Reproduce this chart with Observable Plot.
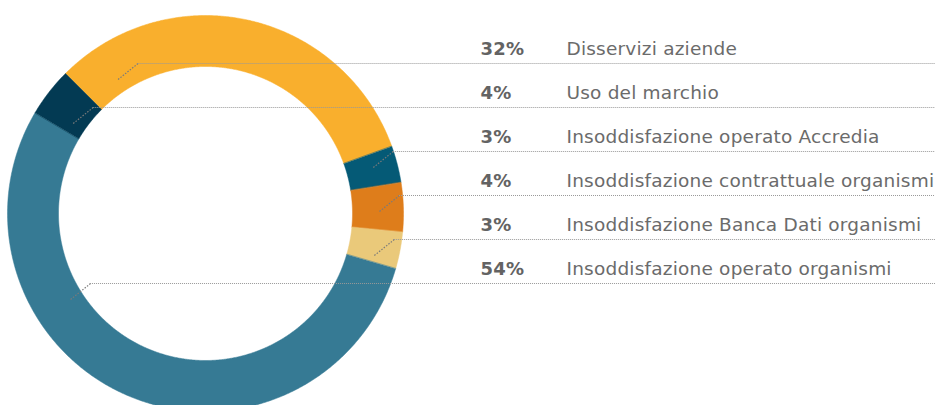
<!DOCTYPE html>
<html>
<head>
<meta charset="utf-8">
<script src="https://cdn.jsdelivr.net/npm/d3@7"></script>
<script src="https://cdn.jsdelivr.net/npm/@observablehq/plot@0.6"></script>
<style>
  html, body { margin: 0; padding: 0; background: #fff; }
  #chart svg { display: block; }
  #chart svg text { letter-spacing: 0.2px; }
</style>
</head>
<body>
<div id="chart"></div>
<script>
// ---- data (legend order) ----
const categories = [
  "Disservizi aziende",
  "Uso del marchio",
  "Insoddisfazione operato Accredia",
  "Insoddisfazione contrattuale organismi",
  "Insoddisfazione Banca Dati organismi",
  "Insoddisfazione operato organismi"
];
const values = [32, 4, 3, 4, 3, 54];
const percentLabels = ["32%", "4%", "3%", "4%", "3%", "54%"];
// clockwise order of the slices, starting at upper-left
const pieOrder = [
  "Disservizi aziende",
  "Insoddisfazione operato Accredia",
  "Insoddisfazione contrattuale organismi",
  "Insoddisfazione Banca Dati organismi",
  "Insoddisfazione operato organismi",
  "Uso del marchio"
];
const colors = ["#F9AF2D", "#033A53", "#055A76", "#DE7D1B", "#EAC97A", "#367A94"];

// ---- layout ----
const W = 935, H = 405;
const cx = 205, cy = 213, rOuter = 198, rInner = 147;
const startAngle = -45 * Math.PI / 180;
const rowTop = 63, rowStep = 44;
const pctX = 480, labelX = 566;

const valueOf = Object.fromEntries(categories.map((c, i) => [c, values[i]]));
const pie = d3.pie().sort(null).value(d => valueOf[d])
  .startAngle(startAngle).endAngle(startAngle + 2 * Math.PI);
const arcs = pie(pieOrder);

const pt = (r, a) => ({x: cx + r * Math.sin(a), y: cy - r * Math.cos(a)});
const norm = a => {
  let v = a;
  while (v < startAngle) v += 2 * Math.PI;
  while (v >= startAngle + 2 * Math.PI) v -= 2 * Math.PI;
  return v;
};

// ring polygons
const ring = [];
for (const a of arcs) {
  const n = Math.max(4, Math.ceil((a.endAngle - a.startAngle) / (0.4 * Math.PI / 180)));
  for (let k = 0; k <= n; k++) {
    const t = a.startAngle + (a.endAngle - a.startAngle) * k / n;
    ring.push({cat: a.data, ...pt(rOuter, t)});
  }
  for (let k = n; k >= 0; k--) {
    const t = a.startAngle + (a.endAngle - a.startAngle) * k / n;
    ring.push({cat: a.data, ...pt(rInner, t)});
  }
}

// legend rows + leaders (leader starts inside its slice, left side preferred)
const rows = categories.map((c, i) => {
  const a = arcs.find(d => d.data === c);
  const yLine = rowTop + rowStep * i;
  const y0 = yLine + 16;
  const rl = 160, rr = 174;
  const dl = Math.sqrt(Math.max(0, rl * rl - (y0 - cy) ** 2));
  const angL = norm(Math.atan2(-dl, -(y0 - cy)));
  const left = angL >= a.startAngle && angL <= a.endAngle;
  const dr = Math.sqrt(Math.max(0, rr * rr - (y0 - cy) ** 2));
  const x0 = left ? cx - dl : cx + dr;
  return {cat: c, pct: percentLabels[i], yLine, yText: yLine - 9, x0, y0, x1: x0 + 20};
});

const plot = Plot.plot({
  width: W,
  height: H,
  margin: 0,
  x: {domain: [0, W], range: [0, W], axis: null},
  y: {domain: [0, H], range: [0, H], axis: null},
  color: {domain: categories, range: colors},
  style: {fontFamily: "'DejaVu Sans', sans-serif", background: "#fff"},
  marks: [
    Plot.line(ring, {x: "x", y: "y", z: "cat", fill: "cat", stroke: "cat", strokeWidth: 0.5, curve: "linear-closed"}),
    Plot.link(rows, {x1: "x0", y1: "y0", x2: "x1", y2: "yLine", stroke: "#7a7a7a", strokeWidth: 1.2, strokeDasharray: "1.5,1.5"}),
    Plot.ruleY(rows, {y: "yLine", x1: "x1", x2: W, stroke: "#999999", strokeWidth: 1, strokeDasharray: "1,1"}),
    Plot.text(rows, {x: pctX, y: "yText", text: "pct", textAnchor: "start", lineAnchor: "bottom", fontSize: 18, fontWeight: "bold", fill: "#636363"}),
    Plot.text(rows, {x: labelX, y: "yText", text: "cat", textAnchor: "start", lineAnchor: "bottom", fontSize: 18.5, fill: "#6b6b6b"})
  ]
});
document.getElementById("chart").appendChild(plot);
</script>
</body>
</html>
